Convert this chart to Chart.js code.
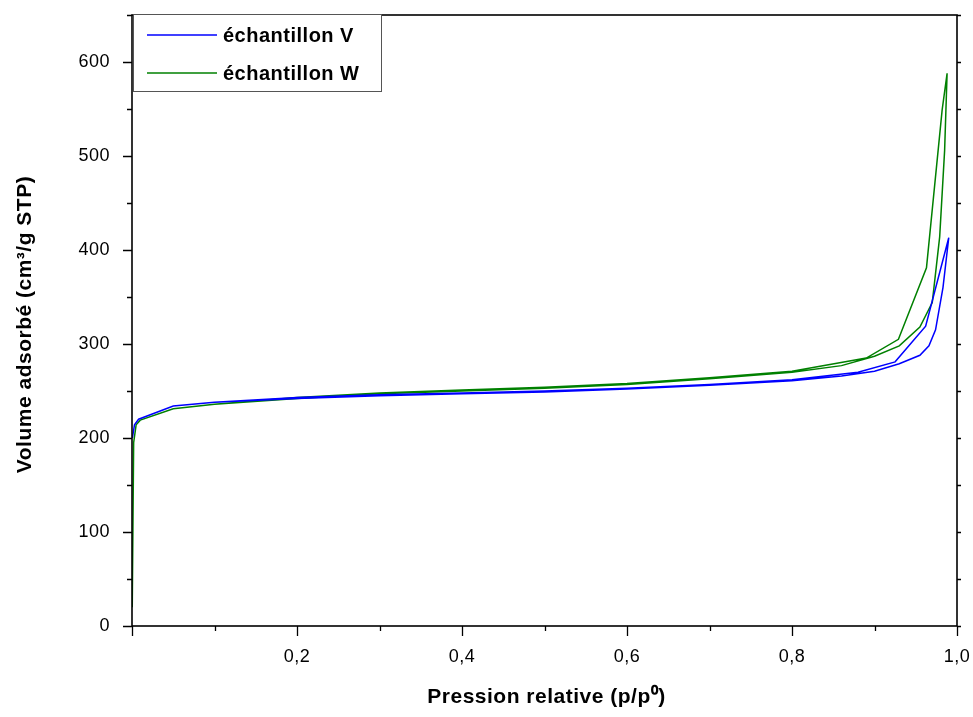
<!DOCTYPE html>
<html>
<head>
<meta charset="utf-8">
<script src="https://cdn.jsdelivr.net/npm/chart.js@4/dist/chart.umd.min.js"></script>
<style>
  html, body { margin: 0; padding: 0; background: #fff; }
  #wrap { width: 973px; height: 717px; }
</style>
</head>
<body>
<div id="wrap"><canvas id="myChart" width="973" height="717"></canvas></div>
<script>
// échantillon V : adsorption puis désorption
const pressureV = [0.0005, 0.003, 0.008, 0.05, 0.1, 0.2, 0.3, 0.4, 0.5, 0.6, 0.7, 0.8, 0.86, 0.9, 0.93, 0.955, 0.966, 0.974, 0.983, 0.99,
  0.962, 0.925, 0.88, 0.8, 0.7, 0.6, 0.5, 0.4, 0.3, 0.2, 0.1];
const volumeV = [200, 214, 220, 234, 238, 242, 245, 247, 249, 252, 256, 261, 266, 271, 279, 288, 298, 315, 360, 413,
  319, 281, 270, 262, 257, 253, 250, 248, 246, 243, 238];

// échantillon W : adsorption puis désorption
const pressureW = [0.0003, 0.002, 0.005, 0.01, 0.05, 0.1, 0.2, 0.3, 0.4, 0.5, 0.6, 0.7, 0.8, 0.86, 0.9, 0.93, 0.955, 0.97, 0.979, 0.985, 0.988,
  0.982, 0.963, 0.929, 0.89, 0.8, 0.7, 0.6, 0.5, 0.4, 0.3, 0.2, 0.1];
const volumeW = [20, 195, 214, 219, 231, 236, 242, 247, 250, 253, 257, 263, 270, 277, 287, 298, 318, 344, 414, 506, 588,
  549, 381, 305, 285, 271, 264, 258, 254, 251, 248, 243, 236];

const seriesNames = ["échantillon V", "échantillon W"];
const xTickLabels = ["0,2", "0,4", "0,6", "0,8", "1,0"];
const yTickLabels = ["0", "100", "200", "300", "400", "500", "600"];
const xTitle = "Pression relative (p/p⁰)";
const yTitle = "Volume adsorbé (cm³/g STP)";

const toPoints = (xs, ys) => xs.map((x, i) => ({ x: x, y: ys[i] }));

const FONT = "'Liberation Sans', Arial, sans-serif";

// cadre, graduations, titres et légende
const framePlugin = {
  id: "frame",
  beforeLayout(chart) { chart.ctx.letterSpacing = "0.5px"; },
  beforeDraw(chart) { chart.ctx.letterSpacing = "0.5px"; },
  afterDraw(chart) {
    const { ctx, chartArea: a, scales } = chart;
    ctx.save();
    ctx.strokeStyle = "#000";
    ctx.lineWidth = 1.6;
    ctx.strokeRect(a.left, a.top, a.right - a.left, a.bottom - a.top);

    ctx.lineWidth = 1.3;
    ctx.beginPath();
    for (let i = 0; i <= 10; i++) {
      const px = Math.round(scales.x.getPixelForValue(i / 10)) + 0.5;
      const len = i % 2 === 0 ? 10 : 5;
      ctx.moveTo(px, a.bottom);
      ctx.lineTo(px, a.bottom + len);
    }
    for (let v = 0; v <= 650; v += 50) {
      const py = Math.round(scales.y.getPixelForValue(v)) + 0.5;
      const len = v % 100 === 0 ? 9 : 5;
      ctx.moveTo(a.left, py);
      ctx.lineTo(a.left - len, py);
      ctx.moveTo(a.right, py);
      ctx.lineTo(a.right + 4, py);
    }
    ctx.stroke();

    // titres des axes
    ctx.fillStyle = "#000";
    ctx.letterSpacing = "0.5px";
    ctx.font = "bold 21px " + FONT;
    ctx.textAlign = "center";
    ctx.textBaseline = "middle";
    ctx.fillText(xTitle, (a.left + a.right) / 2 + 2, 697);
    ctx.save();
    ctx.translate(25, (a.top + a.bottom) / 2 + 4);
    ctx.rotate(-Math.PI / 2);
    ctx.fillText(yTitle, 0, 0);
    ctx.restore();

    // légende
    const bx = a.left + 1, by = a.top - 1, bw = 248, bh = 77;
    ctx.fillStyle = "#fff";
    ctx.fillRect(bx, by, bw, bh);
    ctx.strokeStyle = "#555";
    ctx.lineWidth = 1;
    ctx.strokeRect(bx + 0.5, by + 0.5, bw, bh);
    ctx.textAlign = "left";
    ctx.font = "bold 20px " + FONT;
    chart.data.datasets.forEach((ds, i) => {
      const y = by + 21 + i * 38;
      ctx.strokeStyle = ds.borderColor;
      ctx.lineWidth = 1.5;
      ctx.beginPath();
      ctx.moveTo(bx + 14, y);
      ctx.lineTo(bx + 84, y);
      ctx.stroke();
      ctx.fillStyle = "#000";
      ctx.fillText(ds.label, bx + 90, y + 1);
    });
    ctx.restore();
  }
};

const noEdgePadding = (s) => {
  s.paddingTop = 0; s.paddingBottom = 0; s.paddingLeft = 0; s.paddingRight = 0;
};

new Chart(document.getElementById("myChart").getContext("2d"), {
  type: "scatter",
  data: {
    datasets: [
      {
        label: seriesNames[0],
        data: toPoints(pressureV, volumeV),
        showLine: true,
        borderColor: "#0000ff",
        borderWidth: 1.5,
        pointRadius: 0,
        tension: 0
      },
      {
        label: seriesNames[1],
        data: toPoints(pressureW, volumeW),
        showLine: true,
        borderColor: "#008000",
        borderWidth: 1.5,
        pointRadius: 0,
        tension: 0
      }
    ]
  },
  options: {
    responsive: false,
    animation: false,
    layout: { padding: { left: 0, right: 16, top: 15, bottom: 0 } },
    plugins: {
      legend: { display: false },
      tooltip: { enabled: false }
    },
    scales: {
      x: {
        type: "linear",
        min: 0,
        max: 1,
        grid: { display: false, drawTicks: false },
        border: { display: false },
        ticks: {
          stepSize: 0.1,
          autoSkip: false,
          maxRotation: 0,
          padding: 20,
          color: "#000",
          font: { family: FONT, size: 18 },
          callback: (v) => {
            const k = Math.round(v * 10);
            return k > 0 && k % 2 === 0 ? xTickLabels[k / 2 - 1] : "";
          }
        },
        afterFit: (s) => { s.height = 91; noEdgePadding(s); }
      },
      y: {
        type: "linear",
        min: 0,
        max: 650,
        grid: { display: false, drawTicks: false },
        border: { display: false },
        ticks: {
          stepSize: 50,
          autoSkip: false,
          padding: 22,
          color: "#000",
          font: { family: FONT, size: 18 },
          callback: (v) => (v % 100 === 0 ? yTickLabels[v / 100] : "")
        },
        afterFit: (s) => { s.width = 132; noEdgePadding(s); }
      }
    }
  },
  plugins: [framePlugin]
});
</script>
</body>
</html>
